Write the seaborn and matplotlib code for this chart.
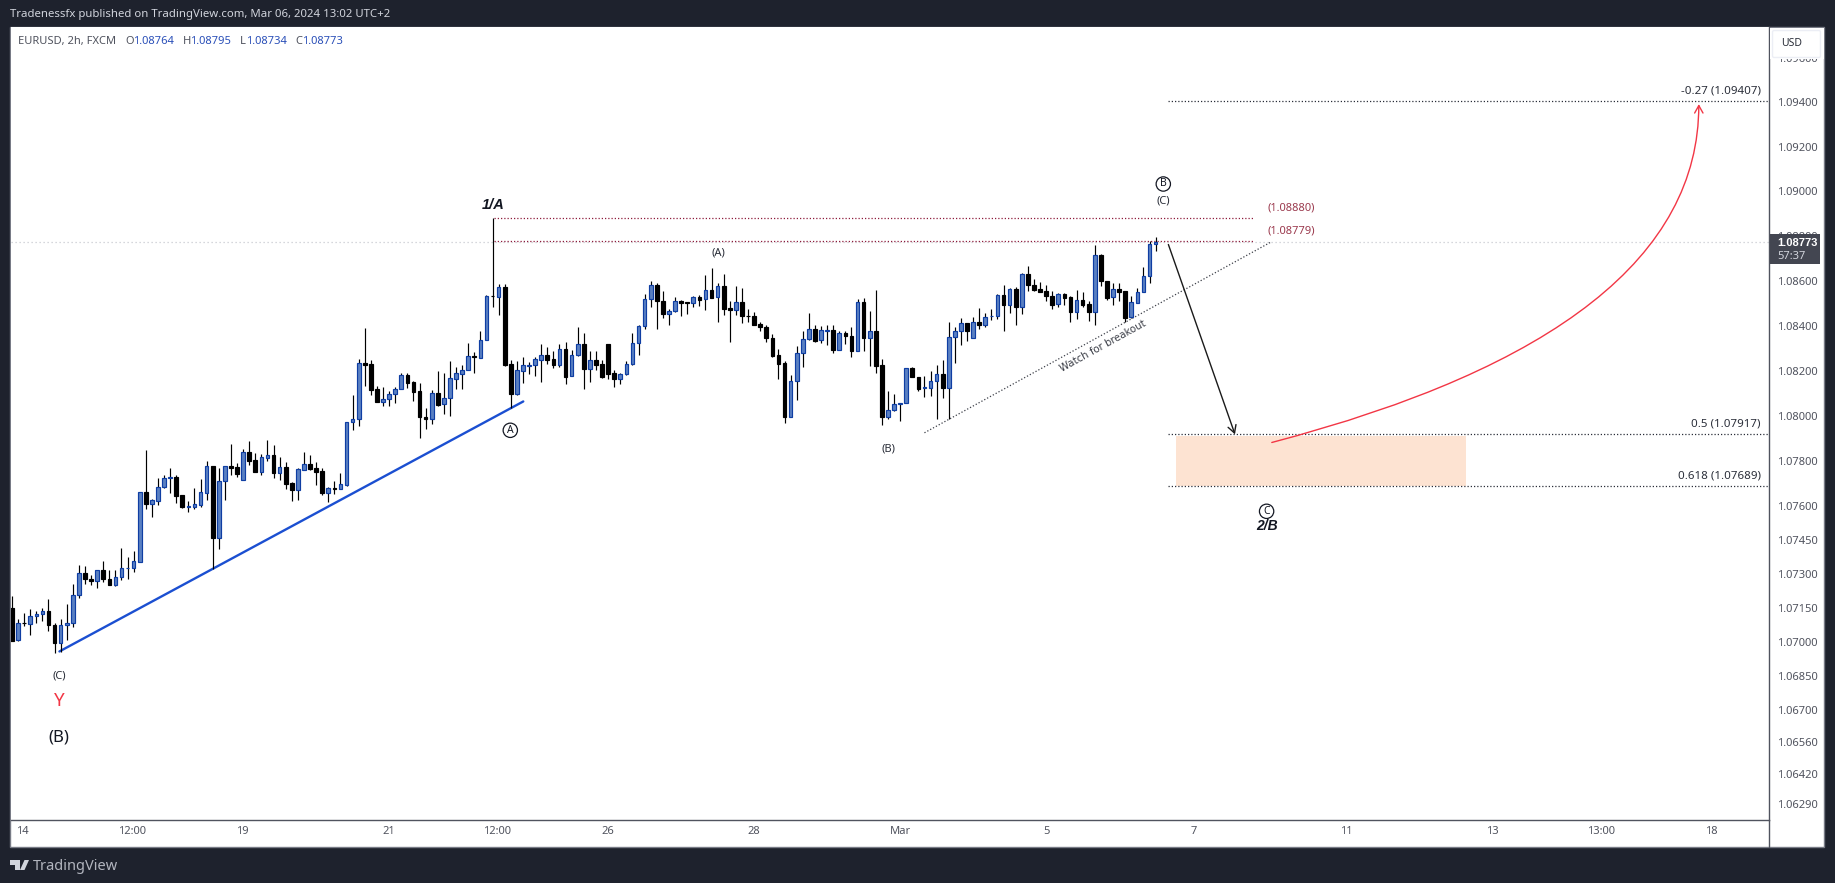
import matplotlib
matplotlib.use("Agg")
import matplotlib.pyplot as plt
from matplotlib.patches import Rectangle, FancyBboxPatch, Polygon
from matplotlib.lines import Line2D
import numpy as np
import pandas as pd
import seaborn as sns

# ---------- data (prices in 1e-5 USD points) ----------
opens = [
107151,107009,107085,107080,107116,107124,107138,107076,106995,107074,
107083,107207,107306,107279,107269,107319,107279,107251,107287,107327,
107327,107353,107664,107610,107623,107685,107725,107726,107647,107597,
107597,107605,107658,107775,107459,107709,107776,107771,107716,107837,
107802,107751,107813,107824,107747,107771,107701,107672,107760,107784,
107766,107753,107658,107678,107676,107694,107973,107983,108233,108228,
108117,108062,108072,108095,108117,108179,108148,108108,107996,107986,
108099,108050,108077,108164,108187,108202,108265,108258,108335,108533,
108527,108571,108228,108098,108200,108222,108224,108249,108268,108251,
108227,108295,108175,108268,108317,108205,108246,108228,108317,108188,
108164,108184,108228,108322,108398,108518,108580,108509,108450,108464,
108509,108505,108500,108527,108518,108558,108527,108576,108478,108469,
108505,108442,108442,108407,108393,108344,108268,108233,107995,108153,
108277,108340,108384,108335,108378,108380,108291,108368,108354,108285,
108504,108343,108375,108224,107995,108023,108053,108054,108210,108170,
108124,108124,108153,108184,108124,108349,108375,108411,108344,108415,
108402,108441,108441,108536,108490,108562,108485,108629,108580,108562,
108553,108534,108496,108543,108527,108463,108513,108496,108463,108714,
108598,108527,108562,108555,108438,108503,108549,108620,108764]
highs = [
107201,107102,107129,107144,107136,107151,107188,107083,107102,107166,
107254,107341,107337,107294,107319,107356,107316,107319,107414,107374,
107400,107664,107847,107630,107723,107735,107768,107735,107647,107622,
107679,107719,107799,107779,107768,107778,107874,107788,107850,107887,
107833,107828,107894,107872,107815,107793,107706,107766,107837,107824,
107793,107766,107686,107709,107748,107974,108092,108251,108389,108248,
108130,108126,108108,108126,108188,108188,108154,108144,108032,108114,
108197,108190,108242,108218,108225,108322,108282,108377,108536,108880,
108585,108586,108248,108242,108260,108240,108260,108319,108304,108286,
108319,108326,108292,108395,108366,108286,108288,108245,108317,108202,
108191,108242,108366,108404,108540,108600,108589,108555,108473,108527,
108513,108505,108533,108537,108626,108656,108589,108631,108509,108576,
108567,108473,108461,108418,108402,108362,108297,108242,108181,108310,
108375,108457,108404,108399,108404,108404,108374,108377,108395,108519,
108522,108466,108559,108250,108109,108095,108054,108210,108215,108170,
108176,108199,108224,108246,108415,108396,108433,108411,108438,108478,
108455,108473,108539,108580,108568,108571,108634,108666,108608,108595,
108582,108556,108545,108545,108530,108558,108550,108510,108758,108720,
108598,108589,108589,108555,108533,108567,108662,108779,108795]
lows = [
107004,107004,107073,107033,107083,107092,107051,106950,106956,107009,
107066,107194,107254,107250,107237,107265,107250,107245,107272,107278,
107307,107353,107586,107551,107605,107679,107657,107613,107591,107573,
107586,107595,107626,107321,107409,107626,107737,107728,107716,107781,
107750,107737,107799,107723,107713,107675,107622,107626,107760,107759,
107692,107648,107617,107653,107676,107689,107936,107953,108132,108092,
108062,108043,108043,108058,108117,108123,108065,107902,107942,107964,
108043,108007,107998,108120,108118,108202,108190,108254,108335,108481,
108448,108221,108032,108092,108145,108184,108175,108150,108230,108213,
108218,108142,108175,108267,108120,108151,108203,108166,108163,108129,
108142,108179,108224,108271,108387,108485,108387,108436,108401,108463,
108441,108454,108485,108488,108470,108521,108418,108448,108329,108448,
108410,108418,108405,108378,108329,108260,108164,107968,107995,108071,
108215,108335,108326,108325,108314,108280,108291,108319,108262,108285,
108289,108222,108191,107958,107986,108020,107977,108054,108170,108111,
108084,108087,107986,108078,107983,108236,108314,108331,108344,108387,
108393,108426,108430,108377,108455,108403,108452,108555,108556,108550,
108512,108475,108485,108493,108417,108430,108481,108421,108403,108577,
108515,108493,108512,108418,108436,108500,108548,108591,108734]
closes = [
107006,107085,107083,107116,107124,107136,107074,106995,107076,107085,
107209,107306,107278,107268,107318,107278,107251,107288,107328,107328,
107355,107664,107610,107625,107686,107722,107726,107645,107597,107598,
107607,107660,107775,107459,107709,107775,107769,107741,107837,107800,
107751,107815,107824,107747,107771,107697,107670,107762,107784,107763,
107751,107657,107678,107676,107695,107974,107983,108233,108227,108116,
108062,108072,108095,108117,108179,108147,108107,107995,107986,108099,
108047,108077,108166,108188,108202,108264,108261,108335,108531,108530,
108571,108225,108098,108202,108224,108224,108251,108268,108249,108227,
108295,108173,108268,108317,108205,108246,108227,108173,108187,108164,
108184,108228,108322,108398,108518,108580,108509,108450,108464,108509,
108503,108503,108527,108516,108558,108525,108576,108476,108469,108505,
108441,108441,108405,108392,108343,108267,108231,107995,108153,108277,
108340,108383,108332,108380,108380,108291,108366,108352,108285,108504,
108343,108375,108222,107995,108023,108050,108054,108210,108170,108120,
108126,108153,108184,108123,108349,108375,108411,108374,108415,108401,
108438,108442,108536,108490,108562,108485,108629,108579,108559,108552,
108534,108494,108543,108525,108463,108513,108494,108463,108714,108597,
108524,108562,108552,108436,108504,108549,108620,108763,108773]

price_ticks = [1.096, 1.094, 1.092, 1.090, 1.088, 1.086, 1.084, 1.082, 1.080, 1.078,
               1.076, 1.0745, 1.073, 1.0715, 1.070, 1.0685, 1.067, 1.0656, 1.0642, 1.0629]
time_tick_bars = [1.7, 19.7, 37.8, 62, 79.8, 98, 122, 146, 170, 194.2, 219.3, 243.3, 261.2, 279.4]
time_tick_labels = ["14", "12:00", "19", "21", "12:00", "26", "28", "Mar", "5", "7", "11", "13", "13:00", "18"]

trend_bars = [7.8, 84.05]
trend_prices = [1.06959, 1.08063]
watch_bars = [150.0, 207.1]
watch_prices = [1.07924, 1.08775]
level_upper = 1.08880
level_lower = 1.08779
level_bars = [79.2, 204.0]
last_price = 1.08773
fib_bars_start = 190.1
fib_levels = [1.09407, 1.07917, 1.07689]
zone_bars = [191.4, 239.1]
zone_prices = [1.07689, 1.07910]
down_arrow_bars = [190.1, 201.05]
down_arrow_prices = [1.08762, 1.07917]
up_arrow_bars = [207.1, 277.3]
up_arrow_prices = [1.07881, 1.09391]

# ---------- setup ----------
W, H = 1835, 883
sns.set_theme(style="white")
FONT = ["Noto Sans", "DejaVu Sans"]
plt.rcParams["font.family"] = FONT
BOLD = ["Liberation Sans", "DejaVu Sans"]

DARK = "#1e222d"
fig = plt.figure(figsize=(W / 100, H / 100), dpi=100, facecolor=DARK)

def fx(x): return x / W
def fy(y): return 1 - y / H
def ptext(x, y, s, **kw):
    kw.setdefault("va", "center")
    kw.setdefault("ha", "center")
    kw.setdefault("zorder", 6)
    return fig.text(fx(x), fy(y), s, **kw)
def prect(x0, y0, x1, y1, **kw):
    r = Rectangle((fx(x0), fy(y1)), fx(x1 - x0), (y1 - y0) / H, transform=fig.transFigure, **kw)
    fig.add_artist(r)
    return r

# white panel with border
prect(10, 27, 1824, 847, facecolor="white", edgecolor="#787b86", linewidth=1, zorder=-1)

L, R, T, B = 10.5, 1769, 27, 820
ax = fig.add_axes([fx(L), fy(B), fx(R - L), (B - T) / H], zorder=1)
ax.set_facecolor("white")

df = pd.DataFrame({"bar": np.arange(len(opens)),
                   "open": np.array(opens) / 1e5, "high": np.array(highs) / 1e5,
                   "low": np.array(lows) / 1e5, "close": np.array(closes) / 1e5})
df["up"] = df["close"] >= df["open"]

ax.set_yscale("log")
x0_px, dx_px = 12.0, 6.083
ax.set_xlim((L - x0_px) / dx_px, (R - x0_px) / dx_px)
ax.set_ylim(1.06221, 1.09738)

# last price line
ax.axhline(last_price, color="#c9cbd1", lw=0.9, ls=(0, (1, 2.2)), zorder=1)

# trend lines
sns.lineplot(x=trend_bars, y=trend_prices, ax=ax, color="#1b4fd1", linewidth=1.7, zorder=2, errorbar=None, estimator=None)
sns.lineplot(x=watch_bars, y=watch_prices, ax=ax, color="#3c3f48", linewidth=0.9, linestyle=(0, (1, 1.6)), zorder=2, errorbar=None, estimator=None)

# candles
ax.vlines(df["bar"], df["low"], df["high"], color="black", linewidth=0.85, zorder=3)
bottoms = df[["open", "close"]].min(axis=1)
tops = df[["open", "close"]].max(axis=1)
up = df["up"].values
ax.bar(df["bar"][up], (tops - bottoms)[up], bottom=bottoms[up], width=0.6,
       color="#5a80c2", edgecolor="#0f3ea3", linewidth=0.85, zorder=4)
ax.bar(df["bar"][~up], (tops - bottoms)[~up], bottom=bottoms[~up], width=0.6,
       color="black", edgecolor="black", linewidth=0.85, zorder=4)

# levels
dot = (0, (1, 1.6))
for lv in (level_upper, level_lower):
    sns.lineplot(x=level_bars, y=[lv, lv], ax=ax, color="#8e1c3c", linewidth=0.9, linestyle=dot, zorder=2, errorbar=None, estimator=None)
for lv in fib_levels:
    ax.hlines(lv, fib_bars_start, ax.get_xlim()[1], color="#2a2e39", linewidth=0.9, linestyles=[dot], zorder=2)
ax.fill_between(zone_bars, zone_prices[0], zone_prices[1], color="#fde3d2", linewidth=0, zorder=1.5)

# arrows
ax.annotate("", xy=(down_arrow_bars[1], down_arrow_prices[1]), xytext=(down_arrow_bars[0], down_arrow_prices[0]),
            arrowprops=dict(arrowstyle="->,head_length=0.45,head_width=0.25", color="#1a1a1a", lw=1.0, shrinkA=0, shrinkB=0), zorder=5)
ax.annotate("", xy=(up_arrow_bars[1], up_arrow_prices[1]), xytext=(up_arrow_bars[0], up_arrow_prices[0]),
            arrowprops=dict(arrowstyle="->,head_length=0.45,head_width=0.25", color="#f23645", lw=1.0, shrinkA=0, shrinkB=0,
                            connectionstyle="angle3,angleA=14.7,angleB=90"), zorder=5)

# axes styling
for s in ("left", "top"):
    ax.spines[s].set_visible(False)
for s in ("right", "bottom"):
    ax.spines[s].set_color("#50535e")
    ax.spines[s].set_linewidth(1.0)
ax.yaxis.tick_right()
ax.minorticks_off()
ax.set_yticks(price_ticks)
ax.set_yticklabels([f"{p:.5f}" for p in price_ticks])
ax.set_xticks(time_tick_bars)
ax.set_xticklabels(time_tick_labels)
ax.tick_params(axis="y", which="both", length=0, pad=5.5, labelsize=8, labelcolor="#50535e", left=False, right=False)
ax.tick_params(axis="x", which="both", length=0, pad=4.5, labelsize=8, labelcolor="#50535e", bottom=False)
ax.set_xlabel(""); ax.set_ylabel("")

# right separator through the time strip
fig.add_artist(Line2D([fx(R), fx(R)], [fy(820), fy(847)], color="#50535e", lw=1.0, zorder=2))

# header / footer
ptext(10, 15, "Tradenessfx published on TradingView.com, Mar 06, 2024 13:02 UTC+2",
      ha="left", color="#d1d4dc", fontsize=8.2)
GREY = "#50535e"; BLUE = "#2a4fb8"
ptext(18, 41.5, "EURUSD, 2h, FXCM", ha="left", color=GREY, fontsize=8)
for xl, lab, xv, val in [(125, "O", 133, "1.08764"), (183, "H", 190, "1.08795"),
                         (240, "L", 246, "1.08734"), (295, "C", 302, "1.08773")]:
    ptext(xl, 41.5, lab, ha="left", color=GREY, fontsize=8)
    ptext(xv, 41.5, val, ha="left", color=BLUE, fontsize=8)

fig.add_artist(Polygon([[fx(10), fy(860)], [fx(20), fy(860)], [fx(20), fy(870)], [fx(15), fy(870)],
                        [fx(15), fy(865)], [fx(10), fy(865)]], closed=True, transform=fig.transFigure,
                       facecolor="#d1d4dc", edgecolor="none", zorder=6))
fig.add_artist(Polygon([[fx(24.5), fy(860)], [fx(29), fy(860)], [fx(24.5), fy(870)], [fx(20), fy(870)]], closed=True,
                       transform=fig.transFigure, facecolor="#d1d4dc", edgecolor="none", zorder=6))
ptext(33, 866, "TradingView", ha="left", color="#b2b5be", fontsize=10.5)

# USD button and last-price tag
prect(1770, 28, 1823.5, 58.5, facecolor="white", edgecolor="none", zorder=4)
fig.add_artist(FancyBboxPatch((fx(1774), fy(56)), fx(45), 24 / H, boxstyle="round,pad=0.0008",
                              transform=fig.transFigure, facecolor="white", edgecolor="#eceef5", linewidth=1, zorder=5,
                              mutation_aspect=W / H))
ptext(1791.7, 44, "USD", color="#2a2e39", fontsize=7.5)
prect(1770, 234, 1820, 264, facecolor="#434651", edgecolor="none", zorder=5)
ptext(1777, 243, "1.08773", ha="left", color="white", fontsize=8, fontweight="bold", family=BOLD)
ptext(1777, 256, "57:37", ha="left", color="#d1d4dc", fontsize=8)

# chart text
TXT = "#131722"
ptext(493.3, 205.3, "1/A", color=TXT, fontsize=10.5, fontweight="bold", fontstyle="italic", family=BOLD)
ptext(718.3, 252.7, "(A)", color="#2a2e39", fontsize=8)
ptext(888.7, 449.3, "(B)", color="#2a2e39", fontsize=8)
ptext(1163.3, 200.7, "(C)", color="#2a2e39", fontsize=8)
ptext(59.3, 675.7, "(C)", color="#2a2e39", fontsize=8)
ptext(59.3, 700.7, "Y", color="#f23645", fontsize=13.5)
ptext(59.3, 737.3, "(B)", color=TXT, fontsize=12)
for cx, cy, s in [(510.3, 430.3, "A"), (1163.3, 184, "B"), (1266.6, 511.3, "C")]:
    ptext(cx, cy, s, color=TXT, fontsize=7.5,
          bbox=dict(boxstyle="circle,pad=0.16", facecolor="none", edgecolor=TXT, linewidth=0.9))
ptext(1267, 526, "2/B", color=TXT, fontsize=10, fontweight="bold", fontstyle="italic", family=BOLD)
ptext(1102.7, 346, "Watch for breakout", color="#3c3f48", fontsize=7.3, rotation=28.8, rotation_mode="anchor",
      family=["DejaVu Sans"])
ptext(1291, 208, "(1.08880)", color="#9b3a4e", fontsize=8)
ptext(1291, 231, "(1.08779)", color="#9b3a4e", fontsize=8)
ptext(1760.5, 90.7, "-0.27 (1.09407)", ha="right", color="#2a2e39", fontsize=8.3)
ptext(1760.5, 423.7, "0.5 (1.07917)", ha="right", color="#2a2e39", fontsize=8.3)
ptext(1760.5, 475.7, "0.618 (1.07689)", ha="right", color="#2a2e39", fontsize=8.3)

fig.savefig("out.png", dpi=100, facecolor=DARK)
